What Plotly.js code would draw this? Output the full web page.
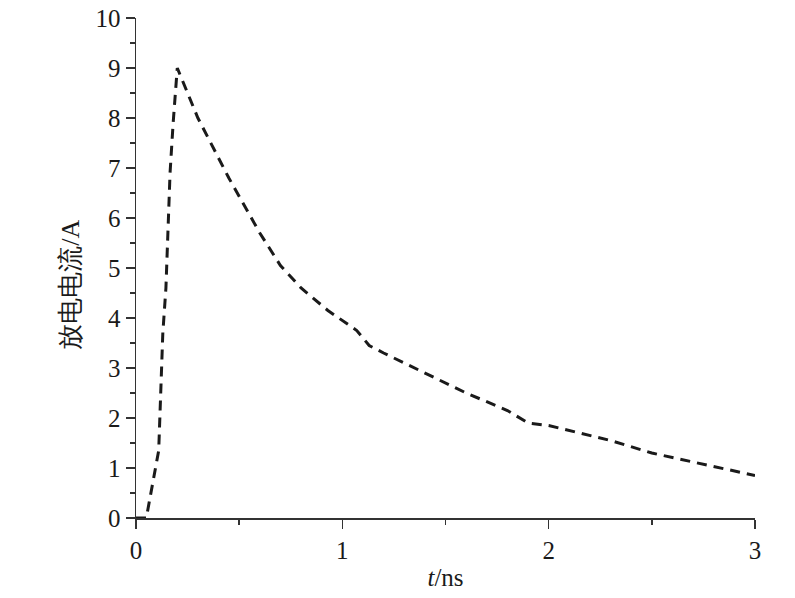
<!DOCTYPE html>
<html>
<head>
<meta charset="utf-8">
<script src="https://cdn.plot.ly/plotly-3.0.1.min.js"></script>
<style>
  html, body { margin: 0; padding: 0; background: #fff; }
  #chart { width: 795px; height: 598px; }
</style>
</head>
<body>
<div id="chart"></div>
<script>
// discharge current vs time
let timeNs = [0, 0.05, 0.11, 0.13, 0.145, 0.165, 0.18, 0.2, 0.3, 0.45, 0.6, 0.7, 0.8, 0.93,
              1.07, 1.13, 1.2, 1.4, 1.6, 1.8, 1.9, 2.0, 2.3, 2.5, 3.0];
let currentA = [0, 0, 1.35, 3.7, 4.6, 6.9, 7.9, 9.0, 8.0, 6.8, 5.7, 5.05, 4.6, 4.15,
                3.75, 3.45, 3.3, 2.9, 2.5, 2.15, 1.9, 1.85, 1.55, 1.3, 0.85];
let xTicks = [0, 1, 2, 3];
let yTicks = [0, 1, 2, 3, 4, 5, 6, 7, 8, 9, 10];

let serif = 'Liberation Serif';

let trace = {
    type: 'scatter',
    mode: 'lines',
    x: timeNs,
    y: currentA,
    line: {
        color: '#1a1a1a',
        width: 3,
        dash: '10px,7px'
    },
    hoverinfo: 'skip'
};

let layout = {
    width: 795,
    height: 598,
    paper_bgcolor: '#fff',
    plot_bgcolor: '#fff',
    showlegend: false,
    margin: { t: 18, r: 40, b: 80, l: 136 },
    font: { family: serif, size: 25, color: '#1a1a1a' },
    xaxis: {
        range: [0, 3],
        tickvals: xTicks,
        ticks: 'outside',
        ticklen: 9,
        tickwidth: 1.5,
        tickcolor: '#333',
        showline: true,
        linecolor: '#333',
        linewidth: 1.5,
        showgrid: false,
        zeroline: false,
        minor: { dtick: 0.5, ticks: 'outside', ticklen: 5, tickwidth: 1.5, tickcolor: '#333' },
        title: { text: '<i>t</i>/ns', font: { family: serif, size: 25 }, standoff: 6 }
    },
    yaxis: {
        range: [0, 10],
        tickvals: yTicks,
        ticks: 'outside',
        ticklen: 9,
        tickwidth: 1.5,
        tickcolor: '#333',
        showline: true,
        linecolor: '#333',
        linewidth: 1.5,
        showgrid: false,
        zeroline: false,
        minor: { dtick: 0.5, ticks: 'outside', ticklen: 5, tickwidth: 1.5, tickcolor: '#333' }
    },
    // y title placed as annotation so it sits a little below centre like the original
    annotations: [{
        text: '放电电流/A',
        xref: 'paper', yref: 'paper',
        x: -0.107, y: 0.466,
        xanchor: 'center', yanchor: 'middle',
        textangle: -90,
        showarrow: false,
        font: { family: serif, size: 26 }
    }]
};

Plotly.newPlot('chart', [trace], layout, { staticPlot: true });
</script>
</body>
</html>
